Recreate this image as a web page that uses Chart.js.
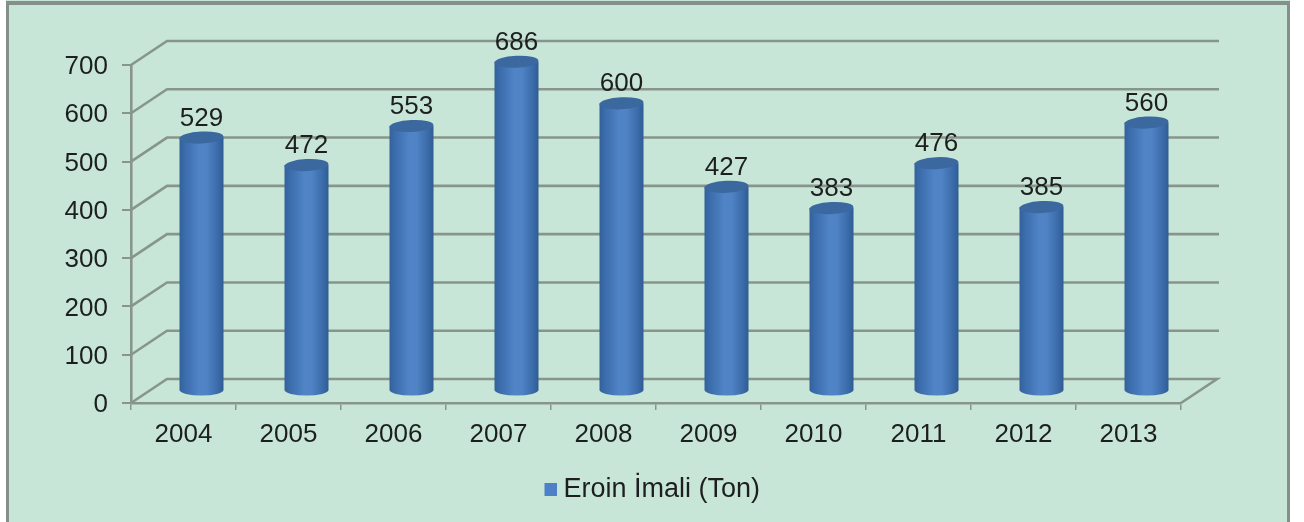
<!DOCTYPE html>
<html><head><meta charset="utf-8">
<style>html,body{margin:0;padding:0;background:#fff}#w{position:absolute;left:0;top:0;width:1304px;height:522px}</style>
<script src="https://cdn.jsdelivr.net/npm/chart.js@4"></script></head>
<body><div id="w"><canvas id="c" width="1304" height="522"></canvas></div>
<script>
const categories = ['2004','2005','2006','2007','2008','2009','2010','2011','2012','2013'];
const seriesName = 'Eroin İmali (Ton)';
const heroin = [529,472,553,686,600,427,383,476,385,560];
const yTicks = [0,100,200,300,400,500,600,700];
const DX = 36, DY = 24;
const GRID = '#88958b', BG = '#c8e6d8', TXT = '#1c1f1e', FONT = '"Liberation Sans"';

class CylinderBar extends Chart.BarElement {
  draw(ctx) {
    const {x, y, base, width} = this.getProps(['x','y','base','width']);
    const cx = x + DX/2, top = y - DY/2 + 2, bot = base - DY/2;
    const l = cx - width/2, r = cx + width/2, ry = 5.5, rt = 6;
    const g = ctx.createLinearGradient(l,0,r,0);
    g.addColorStop(0,'#33619a'); g.addColorStop(.12,'#3b6cac'); g.addColorStop(.45,'#5084c6'); g.addColorStop(.62,'#4f83c5'); g.addColorStop(.88,'#3a6aa8'); g.addColorStop(1,'#2f5c92');
    ctx.save();
    ctx.beginPath();
    ctx.moveTo(l,top);
    ctx.lineTo(l,bot);
    ctx.ellipse(cx,bot,width/2,ry,0,Math.PI,0,true);
    ctx.lineTo(r,top);
    ctx.closePath();
    ctx.fillStyle = g; ctx.fill();
    ctx.beginPath();
    ctx.ellipse(cx,top,width/2,rt,-0.05,0,Math.PI*2);
    ctx.fillStyle = '#3b689f'; ctx.fill();
    ctx.restore();
  }
}
CylinderBar.id = 'cylinderBar';
CylinderBar.defaults = Chart.BarElement.defaults;
class CylinderController extends Chart.BarController {}
CylinderController.id = 'cylinder';
CylinderController.defaults = Object.assign({}, Chart.BarController.defaults, {dataElementType:'cylinderBar'});
CylinderController.overrides = Chart.BarController.overrides;
Chart.register(CylinderBar, CylinderController);

const legendMark = document.createElement('canvas');
legendMark.width = 21; legendMark.height = 13;
(function(){ const k = legendMark.getContext('2d'); k.fillStyle = '#4d80c6'; k.fillRect(8,0,13,13); })();

const panel = { id:'panel', beforeDraw(ch){
  const c = ch.ctx; c.save();
  c.fillStyle = BG; c.fillRect(6,0,1284,522);
  c.fillStyle = '#85908a'; c.fillRect(6,1,1284,4); c.fillRect(6,1,3,521); c.fillRect(1287,1,3,521);
  c.restore();
}};
const nudge = { id:'nudge', afterLayout(ch){
  ch.legend.left += 61.5; ch.legend.right += 61.5;
  ch.legend.top += 1; ch.legend.bottom += 1;
  ch.scales.y.getLabelItems().forEach(it => { it.options.translation[1] += 2; });
}};
const walls = { id:'walls', beforeDatasetsDraw(ch){
  const c = ch.ctx, ys = ch.scales.y, a = ch.chartArea;
  c.save(); c.strokeStyle = GRID; c.lineWidth = 2.6; c.lineJoin='miter';
  yTicks.forEach(v=>{
    const p = ys.getPixelForValue(v);
    c.beginPath(); c.moveTo(a.left,p); c.lineTo(a.left+DX,p-DY); c.lineTo(a.right+DX+(v===0?0:2),p-DY);
    if(v===0) c.lineTo(a.right,p);
    c.stroke();
  });
  c.restore();
}};
const values = { id:'values', afterDatasetsDraw(ch){
  const c = ch.ctx, m = ch.getDatasetMeta(0);
  c.save(); c.font = '26px '+FONT; c.fillStyle = TXT; c.textAlign='center'; c.textBaseline='middle';
  m.data.forEach((b,i)=> c.fillText(String(heroin[i]), b.x+DX/2, b.y-DY/2-17));
  c.restore();
}};

new Chart(document.getElementById('c'),{
  type:'cylinder',
  data:{labels:categories,datasets:[{label:seriesName,data:heroin,backgroundColor:'#4d80c6',borderWidth:0,clip:false,
    barPercentage:44/105,categoryPercentage:1}]},
  plugins:[panel,nudge,walls,values],
  options:{
    responsive:false,animation:false,devicePixelRatio:1,
    layout:{padding:{left:0,right:123,top:65,bottom:10}},
    plugins:{
      tooltip:{enabled:false},
      legend:{position:'bottom',align:'center',labels:{
        usePointStyle:true,pointStyle:legendMark,pointStyleWidth:6,boxHeight:13,padding:10,color:TXT,font:{family:FONT,size:27}}}
    },
    scales:{
      x:{type:'category',grid:{display:true,drawOnChartArea:false,drawTicks:true,tickLength:7,color:GRID,lineWidth:1.5,offset:true},
        border:{color:GRID,width:2.6},
        ticks:{color:TXT,padding:9,maxRotation:0,autoSkip:false,font:{family:FONT,size:26}},
        afterFit(s){s.height=62;}},
      y:{min:0,max:700,grid:{display:true,drawOnChartArea:false,tickLength:9,color:GRID,lineWidth:2},
        border:{color:GRID,width:2.6},
        ticks:{stepSize:100,color:TXT,padding:14,font:{family:FONT,size:26}},
        afterFit(s){s.width=131;}}
    }
  }
});
</script></body></html>
